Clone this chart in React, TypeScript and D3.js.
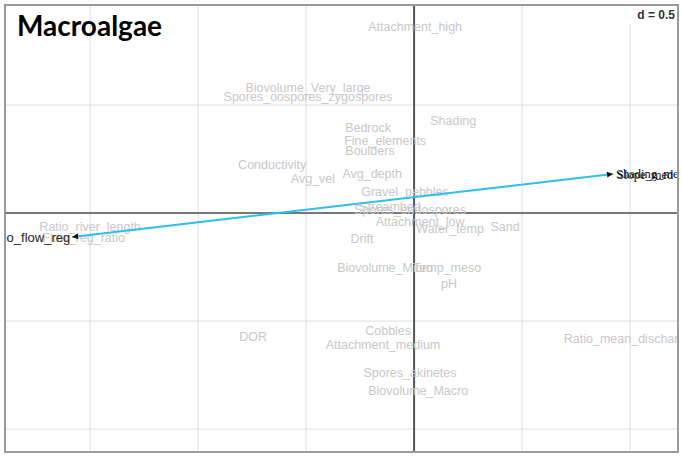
import React from "react";
import * as d3 from "d3";

const W = 682;
const H = 457;

const labelNames = [
  "Attachment_high", "Biovolume_Very_large", "Spores_oospores_zygospores", "Bedrock", "Shading",
  "Fine_elements", "Boulders", "Conductivity", "Avg_vel", "Avg_depth", "Gravel_pebbles",
  "Streambed", "Spores_endospores", "Attachment_low", "Water_temp", "Sand",
  "Ratio_river_length", "Flow_reg_ratio", "Drift", "Biovolume_Micro", "Temp_meso", "pH",
  "Ratio_mean_discharge", "DOR", "Cobbles", "Attachment_medium", "Spores_akinetes", "Biovolume_Macro",
];
const labelX = [
  0.005, -0.491, -0.491, -0.213, 0.181,
  -0.134, -0.204, -0.657, -0.468, -0.194, -0.042,
  -0.111, -0.019, 0.028, 0.167, 0.421,
  -1.5, -1.53, -0.241, -0.134, 0.153, 0.162,
  0.991, -0.745, -0.12, -0.144, -0.019, 0.019,
];
const labelY = [
  0.861, 0.579, 0.537, 0.394, 0.426,
  0.333, 0.287, 0.222, 0.157, 0.181, 0.097,
  0.028, 0.014, -0.042, -0.074, -0.065,
  -0.065, -0.116, -0.12, -0.255, -0.255, -0.329,
  -0.583, -0.574, -0.546, -0.611, -0.741, -0.824,
];

const vecStart = [-1.583, -0.111];
const vecEnd = [0.921, 0.181];
const vecStartLabel = "Ratio_flow_reg";
const vecEndLabels = ["Shading_mean", "Slope_med"];

const gridTicks = [-1.5, -1, -0.5, 0.5, 1];
const gridTicksY = [0.5, -0.5, -1];

export default function App() {
  const L = 5, R = 678, T = 5, B = 452;
  const x = d3.scaleLinear().domain([-1.894, 1.222]).range([L, R]);
  const y = d3.scaleLinear().domain([-1.106, 0.963]).range([B, T]);

  const sx = x(vecStart[0]), sy = y(vecStart[1]);
  const ex = x(vecEnd[0]), ey = y(vecEnd[1]);
  const ang = Math.atan2(ey - sy, ex - sx);
  const tri = (px: number, py: number, a: number, s: number) => {
    const p1 = [px, py];
    const p2 = [px + s * Math.cos(a) - (s / 2) * Math.sin(a), py + s * Math.sin(a) + (s / 2) * Math.cos(a)];
    const p3 = [px + s * Math.cos(a) + (s / 2) * Math.sin(a), py + s * Math.sin(a) - (s / 2) * Math.cos(a)];
    return `M${p1[0]},${p1[1]}L${p2[0]},${p2[1]}L${p3[0]},${p3[1]}Z`;
  };

  return (
    <svg width={W} height={H} style={{ position: "absolute", left: 0, top: 0, background: "#fff" }}
      fontFamily="'Liberation Sans', Arial, sans-serif">
      <defs>
        <clipPath id="plotclip">
          <rect x={L} y={T} width={R - L} height={B - T} />
        </clipPath>
      </defs>
      <rect x={0} y={0} width={W} height={H} fill="#fff" />
      <g clipPath="url(#plotclip)">
        {gridTicks.map((t) => (
          <line key={"gx" + t} x1={x(t)} x2={x(t)} y1={T} y2={B} stroke="#dedede" strokeWidth={1} />
        ))}
        {gridTicksY.map((t) => (
          <line key={"gy" + t} x1={L} x2={R} y1={y(t)} y2={y(t)} stroke="#dedede" strokeWidth={1} />
        ))}
        <line x1={L} x2={R} y1={y(0)} y2={y(0)} stroke="#777" strokeWidth={2} />
        <line x1={x(0)} x2={x(0)} y1={T} y2={B} stroke="#555" strokeWidth={2} />
        {labelNames.map((n, i) => (
          <text key={n} x={x(labelX[i])} y={y(labelY[i])} textAnchor="middle" dominantBaseline="central"
            fontSize={12.5} fill="#c8c8c8">{n}</text>
        ))}
        <line x1={sx} y1={sy} x2={ex} y2={ey} stroke="#2fbdf2" strokeWidth={2} />
        <path d={tri(sx, sy, ang, 6)} fill="#111" />
        <path d={tri(ex, ey, ang + Math.PI, 6)} fill="#111" />
        <text x={sx - 2} y={sy} textAnchor="end" dominantBaseline="central" fontSize={13} fill="#222">{vecStartLabel}</text>
        {vecEndLabels.map((n, i) => (
          <text key={n} x={ex + 3 + i} y={ey + (i === 0 ? 0 : 1)} textAnchor="start" dominantBaseline="central"
            fontSize={12.5} fill="#111" fontFamily="'Liberation Serif', serif">{n}</text>
        ))}
        <rect x={617} y={T} width={R - 617} height={19} fill="#fff" />
        <text x={675} y={19} textAnchor="end" fontSize={12} fontWeight="bold" fill="#333">d = 0.5</text>
      </g>
      <rect x={L} y={T} width={R - L} height={B - T} fill="none" stroke="#9a9a9a" strokeWidth={2} />
      <text x={17} y={36} fontFamily="Lato, 'Open Sans', sans-serif" fontWeight="bold" fontSize={28} fill="#000">Macroalgae</text>
    </svg>
  );
}
